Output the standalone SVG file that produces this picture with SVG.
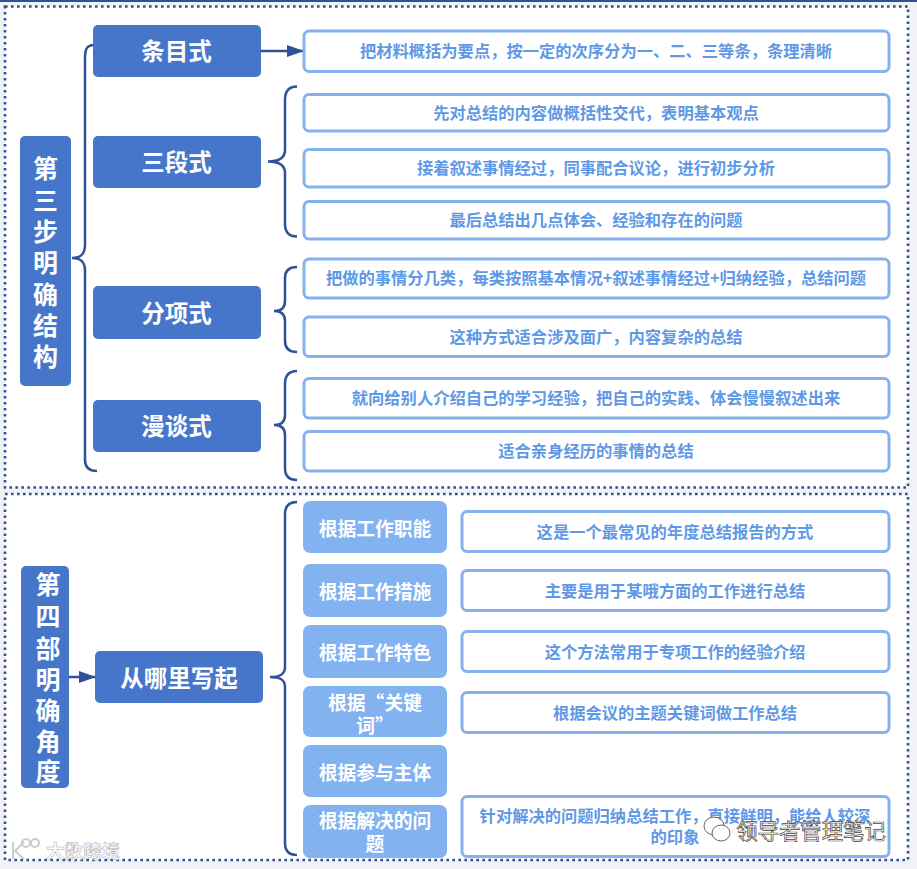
<svg xmlns="http://www.w3.org/2000/svg" width="917" height="869" viewBox="0 0 917 869">
<defs>
<marker id="ah" markerUnits="userSpaceOnUse" markerWidth="18" markerHeight="14" refX="16" refY="6" orient="auto"><path d="M0 0L17 6L0 12Z" fill="#2f5196"/></marker>
</defs>
<style>
text{font-family:"Noto Sans CJK SC","Liberation Sans",sans-serif;font-weight:700;text-anchor:middle;dominant-baseline:central}
.frame{fill:#fff;stroke:#2f5196;stroke-width:2.600;stroke-dasharray:2.600 3.400}
.dk{fill:#4676ca}
.dk2{fill:#fff;font-size:23.500px}
.v{fill:#fff;font-size:25px}
.lt{fill:#fff;stroke:#85b2ec;stroke-width:3}
.lt2{fill:#5f99e6;font-size:16.300px}
.pl{fill:#82b2f0}
.pl2{fill:#fff;font-size:18.800px}
.c{fill:none;stroke:#2f5196;stroke-width:2.500}
.wm{fill:#fff;stroke:#444;stroke-width:.7;font-size:21.400px;font-weight:400}
</style>
<rect width="917" height="869" fill="#f0f2f5"/>
<rect x="0" y="0" width="917" height="2" fill="#2f5196"/>
<rect class="frame" x="5" y="6.500" width="903" height="481"/>
<rect class="frame" x="5" y="494" width="903" height="366"/>

<g id="connectors">
<path class="c" d="M72 258C81 258 85 254 85 245V58C85 49 87 45 94 45M72 258C81 258 85 262 85 271V460C85 467 89 471 97 471"/>
<path class="c" d="M261 51H303" marker-end="url(#ah)"/>
<path class="c" d="M268 161.500C278 161.500 285 159 285 150V100C285 91 289 86.500 297 86.500M268 161.500C278 161.500 285 164 285 173V224C285 232 289 236.500 297 236.500"/>
<path class="c" d="M274 311C281 311 285 308 285 301V278C285 271 289 267 297 267M274 311C281 311 285 314 285 321V341C285 348 289 352 297 352"/>
<path class="c" d="M274 425C281 425 285 422 285 415V384C285 376 289 371 297 371M274 425C281 425 285 428 285 435V468C285 476 289 480 297 480"/>
<path class="c" d="M69 677H95" marker-end="url(#ah)"/>
<path class="c" d="M270 677C279 677 285 675 285 667V514C285 506 289 502 297 502M270 677C279 677 285 679 285 687V843C285 851 289 855 297 855"/>
</g>

<g id="n-step3"><rect class="dk" x="20" y="136" width="51" height="250" rx="5"/>
<text class="v"><tspan x="45.500" y="167">第</tspan><tspan x="45.500" y="199">三</tspan><tspan x="45.500" y="230">步</tspan><tspan x="45.500" y="261">明</tspan><tspan x="45.500" y="293">确</tspan><tspan x="45.500" y="324">结</tspan><tspan x="45.500" y="355">构</tspan></text></g>
<g id="n-tiaomu"><rect class="dk" x="93" y="25" width="168" height="52" rx="5"/><text class="dk2" x="176.500" y="50">条目式</text></g>
<g id="n-sanduan"><rect class="dk" x="93" y="136" width="168" height="52" rx="5"/><text class="dk2" x="176.500" y="161">三段式</text></g>
<g id="n-fenxiang"><rect class="dk" x="93" y="286" width="168" height="53" rx="5"/><text class="dk2" x="176.500" y="311.500">分项式</text></g>
<g id="n-mantan"><rect class="dk" x="93" y="400" width="168" height="52" rx="5"/><text class="dk2" x="176.500" y="425">漫谈式</text></g>

<g id="t1"><rect class="lt" x="304" y="31" width="585" height="40.500" rx="5"/><text class="lt2" x="596" y="50">把材料概括为要点，按一定的次序分为一、二、三等条，条理清晰</text></g>
<g id="t2"><rect class="lt" x="304" y="94.500" width="585" height="36.500" rx="5"/><text class="lt2" x="596" y="111.500">先对总结的内容做概括性交代，表明基本观点</text></g>
<g id="t3"><rect class="lt" x="304" y="149.500" width="585" height="37.500" rx="5"/><text class="lt2" x="596" y="167">接着叙述事情经过，同事配合议论，进行初步分析</text></g>
<g id="t4"><rect class="lt" x="304" y="201.500" width="585" height="37.500" rx="5"/><text class="lt2" x="596" y="219">最后总结出几点体会、经验和存在的问题</text></g>
<g id="t5"><rect class="lt" x="304" y="259" width="585" height="39" rx="5"/><text class="lt2" x="596" y="277">把做的事情分几类，每类按照基本情况+叙述事情经过+归纳经验，总结问题</text></g>
<g id="t6"><rect class="lt" x="304" y="317" width="585" height="39.500" rx="5"/><text class="lt2" x="596" y="336">这种方式适合涉及面广，内容复杂的总结</text></g>
<g id="t7"><rect class="lt" x="304" y="378.500" width="585" height="39.500" rx="5"/><text class="lt2" x="596" y="397">就向给别人介绍自己的学习经验，把自己的实践、体会慢慢叙述出来</text></g>
<g id="t8"><rect class="lt" x="304" y="431.500" width="585" height="39.500" rx="5"/><text class="lt2" x="596" y="450">适合亲身经历的事情的总结</text></g>

<g id="n-step4"><rect class="dk" x="21" y="566" width="48" height="222" rx="5"/>
<text class="v"><tspan x="48" y="583">第</tspan><tspan x="48" y="615">四</tspan><tspan x="48" y="647">部</tspan><tspan x="48" y="678">明</tspan><tspan x="48" y="709">确</tspan><tspan x="48" y="740">角</tspan><tspan x="48" y="770">度</tspan></text></g>
<g id="n-where"><rect class="dk" x="95" y="651" width="168" height="52" rx="5"/><text class="dk2" x="179" y="676.500">从哪里写起</text></g>

<g id="p1"><rect class="pl" x="303" y="501" width="144" height="52" rx="7"/><text class="pl2" x="375" y="527">根据工作职能</text></g>
<g id="p2"><rect class="pl" x="303" y="564" width="144" height="53" rx="7"/><text class="pl2" x="375" y="590">根据工作措施</text></g>
<g id="p3"><rect class="pl" x="303" y="625" width="144" height="53" rx="7"/><text class="pl2" x="375" y="651">根据工作特色</text></g>
<g id="p4"><rect class="pl" x="303" y="686" width="144" height="51" rx="7"/><text class="pl2"><tspan x="375" y="701">根据“关键</tspan><tspan x="375" y="724">词”</tspan></text></g>
<g id="p5"><rect class="pl" x="303" y="745" width="144" height="52" rx="7"/><text class="pl2" x="375" y="771">根据参与主体</text></g>
<g id="p6"><rect class="pl" x="303" y="805" width="144" height="53" rx="7"/><text class="pl2"><tspan x="375" y="819">根据解决的问</tspan><tspan x="375" y="842">题</tspan></text></g>

<g id="r1"><rect class="lt" x="462" y="511.500" width="427" height="40" rx="5"/><text class="lt2" x="675" y="531">这是一个最常见的年度总结报告的方式</text></g>
<g id="r2"><rect class="lt" x="462" y="570.500" width="427" height="40" rx="5"/><text class="lt2" x="675" y="590">主要是用于某哦方面的工作进行总结</text></g>
<g id="r3"><rect class="lt" x="462" y="631.500" width="427" height="40" rx="5"/><text class="lt2" x="675" y="651">这个方法常用于专项工作的经验介绍</text></g>
<g id="r4"><rect class="lt" x="462" y="692.500" width="427" height="40" rx="5"/><text class="lt2" x="675" y="712">根据会议的主题关键词做工作总结</text></g>
<g id="r5"><rect class="lt" x="462" y="796.500" width="427" height="60" rx="5"/><text class="lt2"><tspan x="675" y="815">针对解决的问题归纳总结工作，直接鲜明，能给人较深</tspan><tspan x="675" y="836">的印象</tspan></text></g>

<g id="watermarks">
<text x="83" y="850" style="fill:#fff;stroke:#aaa;stroke-width:.5;font-size:18.500px;font-weight:700">大数跨境</text>
<g fill="none" stroke="#ccc" stroke-width="2"><path d="M13 842V859M24 842L15 851L24 859"/><circle cx="26" cy="843" r="4"/><circle cx="35" cy="843" r="4"/></g>
<g fill="#fff" stroke="#555" stroke-width=".9"><ellipse cx="714" cy="826" rx="10" ry="9"/><ellipse cx="721" cy="833" rx="9" ry="8"/></g>
<text class="wm" x="811" y="829">领导者管理笔记</text>
</g>
</svg>
